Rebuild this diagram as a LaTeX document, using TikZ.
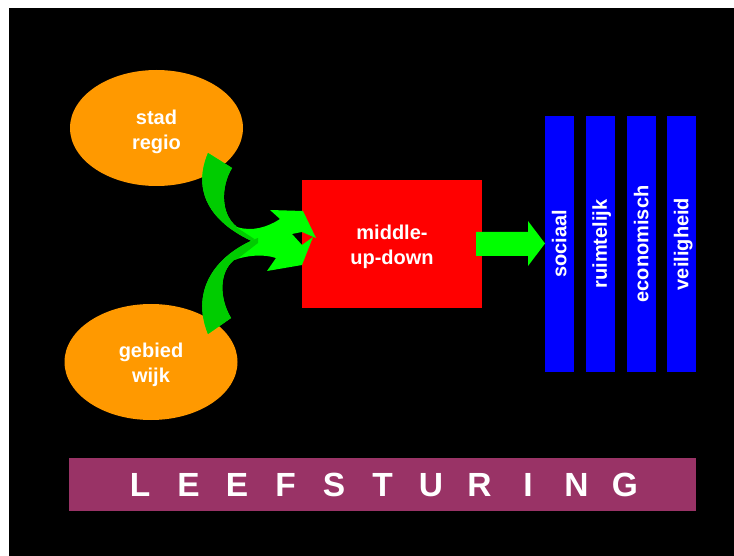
\documentclass[tikz,border=0pt]{standalone}
\usepackage{fontspec}
\setmainfont{Liberation Sans}
\usetikzlibrary{shapes.geometric}
\definecolor{bg}{HTML}{000000}
\definecolor{orng}{HTML}{FF9900}
\definecolor{redbox}{HTML}{FF0000}
\definecolor{bluebar}{HTML}{0000FF}
\definecolor{purp}{HTML}{993366}
\definecolor{brightgreen}{HTML}{00FF00}
\definecolor{darkgreen}{HTML}{00CC00}
\newcommand\lsp[1]{\makebox[48.5pt]{#1}}
\newcommand\lowtxt[2]{\raisebox{-#1}[\height][\depth]{\begin{tabular}{@{}c@{}}#2\end{tabular}}}
\begin{document}
\begin{tikzpicture}[x=1pt,y=-1pt,
  blob/.style={ellipse,fill=orng,inner sep=0pt,minimum width=173pt,minimum height=116pt,
    text=white,font=\fontsize{20}{25}\selectfont\bfseries},
  centerbox/.style={rectangle,fill=redbox,inner sep=0pt,minimum width=180pt,minimum height=128pt,
    text=white,font=\fontsize{20}{25}\selectfont\bfseries},
  domainbar/.style={rectangle,fill=bluebar,inner sep=0pt,rotate=90,minimum width=256pt,minimum height=29pt,
    text=white,font=\fontsize{20}{24}\selectfont\bfseries},
  bannerbar/.style={rectangle,fill=purp,inner sep=0pt,minimum width=627pt,minimum height=53pt,
    text=white,font=\fontsize{33.5}{40}\selectfont\bfseries}
]
\useasboundingbox (0,0) rectangle (734,556);
\fill[bg] (9,8) rectangle (734,556);

% nodes
\node[blob] (stad) at (156.5,128) {\lowtxt{4pt}{stad\\regio}};
\node[blob] (wijk) at (151,362) {\lowtxt{3pt}{gebied\\wijk}};
\node[centerbox] (mud) at (392,244) {\lowtxt{3pt}{middle-\\up-down}};
\node[domainbar] (soc) at (559.5,244) {\lowtxt{2pt}{sociaal}};
\node[domainbar] (ruim) at (600,244) {\lowtxt{2pt}{ruimtelijk}};
\node[domainbar] (eco) at (641.5,244) {\lowtxt{2pt}{economisch}};
\node[domainbar] (vei) at (681.5,244) {\lowtxt{2pt}{veiligheid}};
\node[bannerbar] (leef) at (382.5,484.5) {\lsp{L}\lsp{E}\lsp{E}\lsp{F}\lsp{S}\lsp{T}\lsp{U}\lsp{R}\lsp{I}\lsp{N}\lsp{G}};

% straight arrow from middle-up-down to the domains
\fill[brightgreen] (476,232) -- (528,232) -- (528,221) -- (545,243.5) -- (528,266) -- (528,256) -- (476,256) -- cycle;

% curved arrow from stad/regio
\def\toparrow{(208,153) -- (232,168) .. controls (221,186) and (220,214) .. (237,227)
  .. controls (252,232) and (268,227) .. (280,219) -- (270,210) -- (303,211) -- (316,238)
  -- (302,232) -- (292,234) -- (272,249) .. controls (215,230) and (190,196) .. (208,153) -- cycle}
\fill[brightgreen] \toparrow;
\begin{scope}
  \clip (0,0) -- (236,0) -- (236,227) -- (262,244) -- (262,300) -- (0,300) -- cycle;
  \fill[darkgreen] \toparrow;
\end{scope}

% curved arrow from gebied/wijk
\def\botarrow{(208,334) -- (231,318) .. controls (219,298) and (219,272) .. (234,260)
  .. controls (248,255) and (264,254) .. (276,258) -- (267,271) -- (302,265) -- (313,237)
  -- (302,245) -- (292,234) -- (272,233) .. controls (215,250) and (190,290) .. (208,334) -- cycle}
\fill[brightgreen] \botarrow;
\begin{scope}
  \clip (0,556) -- (236,556) -- (236,260) -- (258,243) -- (258,180) -- (0,180) -- cycle;
  \fill[darkgreen] \botarrow;
\end{scope}
\end{tikzpicture}
\end{document}
